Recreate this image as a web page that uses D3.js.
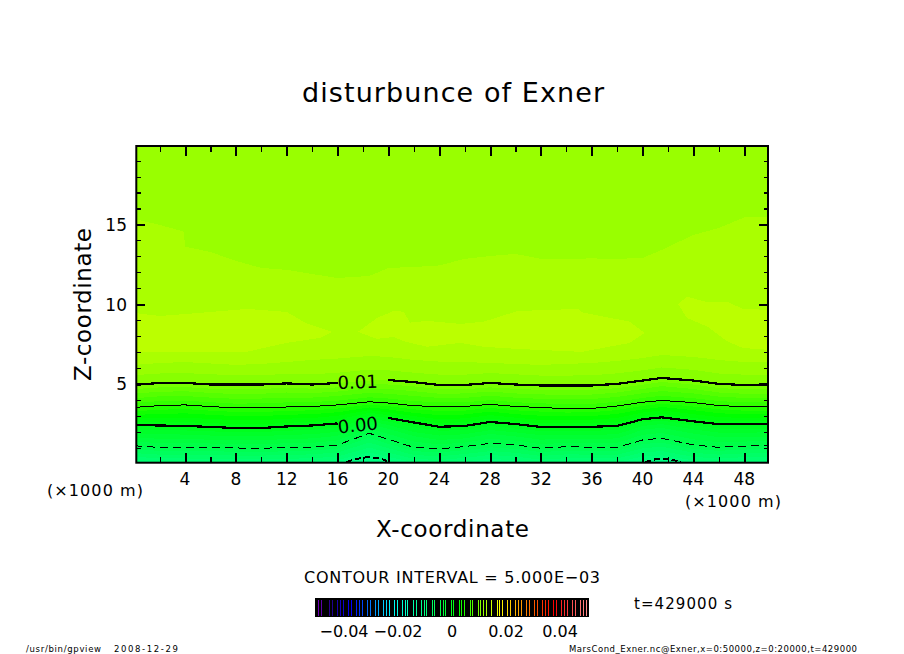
<!DOCTYPE html>
<html>
<head>
<meta charset="utf-8">
<script src="https://cdn.jsdelivr.net/npm/d3@7"></script>
<style>
  body { margin: 0; background: #fff; }
  text { font-family: "DejaVu Sans", sans-serif; fill: #000; }
  .band { shape-rendering: crispEdges; stroke: none; }
  .contour { fill: none; stroke: #000; shape-rendering: crispEdges; }
</style>
</head>
<body>
<div id="chart"></div>
<script>
var xStations = [0, 2, 4, 6, 8, 10, 12, 14, 16, 18.5, 20, 22, 24, 26, 28, 30, 32, 34, 36, 38, 40, 41.5, 44, 46, 48, 50];

// height (km) of each level of disturbance of Exner, one list per level
var lev012 = [6.19, 6.31, 6.37, 6.28, 6.19, 6.25, 6.37, 6.50, 6.59, 6.75, 6.69, 6.50, 6.40, 6.37, 6.31, 6.25, 6.19, 6.25, 6.31, 6.44, 6.62, 6.81, 6.69, 6.50, 6.37, 6.37];
var lev011 = [5.55, 5.65, 5.68, 5.6, 5.55, 5.55, 5.62, 5.6, 5.7, 5.9, 5.85, 5.7, 5.58, 5.58, 5.68, 5.6, 5.52, 5.52, 5.54, 5.66, 5.85, 6.03, 5.88, 5.65, 5.58, 5.58];
var lev010 = [4.93, 5.06, 5.06, 4.96, 4.96, 4.96, 5.03, 4.96, 5.06, 5.21, 5.24, 5.11, 4.93, 4.93, 5.06, 4.96, 4.90, 4.90, 4.90, 5.0, 5.21, 5.37, 5.21, 5.0, 4.93, 4.93];
var lev009 = [4.67, 4.78, 4.8, 4.7, 4.68, 4.68, 4.76, 4.7, 4.78, 4.98, 4.96, 4.84, 4.67, 4.66, 4.78, 4.69, 4.62, 4.6, 4.62, 4.73, 4.95, 5.12, 4.96, 4.74, 4.66, 4.66];
var lev008 = [4.40, 4.5, 4.54, 4.43, 4.36, 4.38, 4.46, 4.42, 4.52, 4.72, 4.68, 4.54, 4.38, 4.4, 4.52, 4.4, 4.34, 4.3, 4.33, 4.46, 4.68, 4.86, 4.68, 4.46, 4.38, 4.38];
var lev007 = [4.1, 4.22, 4.24, 4.14, 4.06, 4.08, 4.14, 4.14, 4.24, 4.44, 4.38, 4.24, 4.12, 4.12, 4.26, 4.13, 4.06, 4.02, 4.05, 4.18, 4.41, 4.55, 4.4, 4.2, 4.12, 4.12];
var lev006 = [3.8, 3.92, 3.95, 3.85, 3.76, 3.78, 3.84, 3.86, 3.95, 4.16, 4.08, 3.92, 3.84, 3.84, 3.98, 3.85, 3.78, 3.72, 3.74, 3.88, 4.12, 4.25, 4.1, 3.92, 3.84, 3.84];
var lev005 = [3.52, 3.64, 3.68, 3.58, 3.49, 3.49, 3.55, 3.58, 3.68, 3.88, 3.80, 3.63, 3.57, 3.58, 3.72, 3.58, 3.52, 3.44, 3.46, 3.61, 3.85, 3.96, 3.83, 3.64, 3.57, 3.57];
var lev004 = [3.28, 3.38, 3.42, 3.32, 3.24, 3.24, 3.3, 3.34, 3.45, 3.7, 3.6, 3.4, 3.3, 3.32, 3.5, 3.34, 3.26, 3.2, 3.22, 3.36, 3.62, 3.75, 3.58, 3.4, 3.32, 3.32];
var lev003 = [3.05, 3.12, 3.15, 3.06, 2.98, 2.98, 3.06, 3.1, 3.22, 3.52, 3.4, 3.18, 3.04, 3.08, 3.26, 3.1, 3.0, 2.96, 2.98, 3.12, 3.4, 3.55, 3.35, 3.16, 3.08, 3.08];
var lev002 = [2.84, 2.88, 2.88, 2.8, 2.72, 2.72, 2.82, 2.86, 3.0, 3.35, 3.22, 2.98, 2.78, 2.84, 3.04, 2.88, 2.74, 2.74, 2.76, 2.86, 3.2, 3.34, 3.1, 2.92, 2.86, 2.86];
var lev001 = [2.62, 2.63, 2.6, 2.54, 2.46, 2.46, 2.56, 2.62, 2.76, 3.18, 3.04, 2.78, 2.54, 2.6, 2.82, 2.68, 2.52, 2.52, 2.54, 2.6, 3.0, 3.12, 2.86, 2.68, 2.66, 2.66];
var lev000 = [2.42, 2.39, 2.36, 2.30, 2.23, 2.23, 2.33, 2.39, 2.52, 2.99, 2.86, 2.58, 2.31, 2.36, 2.61, 2.48, 2.30, 2.31, 2.31, 2.36, 2.78, 2.90, 2.65, 2.47, 2.47, 2.47];
var levM001 = [2.14, 2.12, 2.08, 2.02, 1.98, 1.98, 2.06, 2.12, 2.26, 2.84, 2.64, 2.28, 2.06, 2.1, 2.36, 2.2, 2.04, 2.06, 2.06, 2.1, 2.58, 2.7, 2.4, 2.2, 2.2, 2.2];
var levM002 = [1.88, 1.84, 1.82, 1.76, 1.72, 1.72, 1.8, 1.84, 2.0, 2.66, 2.42, 1.98, 1.76, 1.84, 2.1, 1.96, 1.78, 1.82, 1.8, 1.84, 2.36, 2.48, 2.14, 1.94, 1.94, 1.96];
var levM003 = [1.62, 1.56, 1.54, 1.5, 1.46, 1.46, 1.54, 1.58, 1.74, 2.46, 2.18, 1.72, 1.48, 1.58, 1.86, 1.7, 1.5, 1.56, 1.54, 1.58, 2.12, 2.24, 1.88, 1.66, 1.68, 1.7];
var levM004 = [1.38, 1.28, 1.28, 1.26, 1.22, 1.2, 1.28, 1.3, 1.46, 2.2, 1.86, 1.38, 1.2, 1.32, 1.56, 1.44, 1.22, 1.3, 1.28, 1.3, 1.8, 1.92, 1.52, 1.34, 1.38, 1.42];
var levM005 = [1.12, 1.01, 1.01, 1.01, 0.98, 0.96, 1.01, 1.04, 1.17, 1.90, 1.52, 1.02, 0.92, 1.07, 1.27, 1.17, 0.96, 1.06, 1.02, 1.02, 1.48, 1.59, 1.17, 1.02, 1.10, 1.15];
var levM006 = [0.9, 0.8, 0.78, 0.78, 0.74, 0.72, 0.78, 0.82, 0.94, 1.62, 1.24, 0.78, 0.7, 0.84, 1.02, 0.92, 0.72, 0.82, 0.8, 0.8, 1.22, 1.32, 0.92, 0.8, 0.88, 0.92];
var levM007 = [0.66, 0.56, 0.56, 0.54, 0.5, 0.5, 0.54, 0.58, 0.7, 1.32, 0.96, 0.54, 0.46, 0.6, 0.78, 0.68, 0.48, 0.58, 0.56, 0.56, 0.96, 1.06, 0.68, 0.56, 0.64, 0.68];
var levM008 = [0.42, 0.34, 0.32, 0.3, 0.28, 0.26, 0.3, 0.34, 0.44, 1.0, 0.68, 0.3, 0.22, 0.36, 0.54, 0.44, 0.24, 0.34, 0.32, 0.32, 0.7, 0.78, 0.42, 0.32, 0.4, 0.44];
var levM009 = [0.18, 0.1, 0.1, 0.08, 0.06, 0.06, 0.08, 0.12, 0.22, 0.7, 0.42, 0.1, 0.02, 0.14, 0.3, 0.2, 0.02, 0.1, 0.1, 0.1, 0.44, 0.52, 0.2, 0.1, 0.16, 0.2];

var bandLevels = [0.012, 0.011, 0.010, 0.009, 0.008, 0.007, 0.006, 0.005, 0.004, 0.003, 0.002, 0.001, 0,
  -0.001, -0.002, -0.003, -0.004, -0.005, -0.006, -0.007, -0.008, -0.009];
var bandHeights = [lev012, lev011, lev010, lev009, lev008, lev007, lev006, lev005, lev004, lev003, lev002, lev001, lev000,
  levM001, levM002, levM003, levM004, levM005, levM006, levM007, levM008, levM009];

// upper edge of the 0.012 level (between the two pale bands near the top)
var topX = [0, 2, 3.9, 4, 6, 8, 10, 12, 14, 16, 18.5, 20, 22, 24, 26, 28, 30, 32, 34, 36, 38, 40, 41.5, 44, 46, 48, 50];
var topZ = [15.35, 14.97, 14.55, 13.61, 13.27, 12.71, 12.27, 12.15, 11.89, 11.64, 11.77, 12.27, 12.33, 12.43, 12.84, 13.02, 13.15, 12.84, 12.84, 12.87, 12.84, 12.90, 13.40, 14.34, 14.78, 15.44, 15.49];

// 0.013 blobs
var blobLeftX = [0, 2, 4, 8.9, 12, 13.5, 14.6, 15.6];
var blobLeftHi = [9.45, 9.26, 9.38, 9.70, 9.51, 8.82, 8.51, 8.26];
var blobLeftLo = [7.0, 7.0, 7.0, 7.02, 7.57, 7.75, 7.88, 8.26];
var blobMidX = [17.6, 19.1, 20.4, 21.2, 21.7, 23.05, 25.65, 27.5, 30.15, 34.9, 35.3, 39.0, 40.15];
var blobMidHi = [8.26, 9.13, 9.57, 9.53, 8.84, 8.95, 8.76, 8.90, 9.57, 9.70, 9.47, 8.90, 8.19];
var blobMidLo = [8.26, 7.82, 7.94, 7.69, 7.57, 7.33, 7.57, 7.33, 7.19, 7.02, 7.02, 7.57, 8.19];
var blobRightX = [42.8, 43.5, 45.1, 46.7, 47.9, 50];
var blobRightHi = [10.0, 10.47, 10.12, 10.14, 9.70, 9.64];
var blobRightLo = [10.0, 9.13, 8.59, 7.65, 7.25, 7.13];

// -0.010 contour, only touches the ground under the two bumps
var lowAX = [16.7, 17.5, 18.5, 19.5, 20.1];
var lowAZ = [0.1, 0.3, 0.42, 0.28, 0.1];
var lowBX = [40.2, 41, 42, 43];
var lowBZ = [0.1, 0.27, 0.3, 0.1];

var xMajor = [4, 8, 12, 16, 20, 24, 28, 32, 36, 40, 44, 48];
var xMinor = [2, 6, 10, 14, 18, 22, 26, 30, 34, 38, 42, 46];
var zMajor = [5, 10, 15];
var zMinor = [1, 2, 3, 4, 6, 7, 8, 9, 11, 12, 13, 14, 16, 17, 18, 19];

var barTicks = [-0.04, -0.02, 0, 0.02, 0.04];
var barTickLabels = ["\u22120.04", "\u22120.02", "0", "0.02", "0.04"];
// stripes of the colour bar, in units of 0.001
var barStripes = [-49.5, -48.5, -45.5, -44.5, -42.5, -41.5, -40.5, -38.5, -37.5, -35.5, -34.5, -33.5, -31.5, -30.5, -28.5, -27.5,
  -25.5, -24.5, -23.5, -21.5, -20.5, -18.5, -17.5, -16.5, -14.5, -13.5, -11.5, -10.5, -9.5, -7.5, -6.5, -4.5, -3.5, -2.5, -0.5, 0.5,
  2.5, 3.5, 4.5, 6.5, 7.5, 9.5, 10.5, 11.5, 12.5, 14.5, 16.5, 17.5, 18.5, 20.5, 21.5, 23.5, 24.5, 25.5, 27.5, 28.5, 30.5, 31.5, 33.5,
  34.5, 35.5, 37.5, 38.5, 40.5, 41.5, 42.5, 44.5, 45.5, 47.5, 48.5, 49.5];

const svg = d3.select("#chart").append("svg").attr("width", 904).attr("height", 654);

const frame = { left: 136.3, right: 768, top: 146, bottom: 462.7 };
const x = d3.scaleLinear().domain([0.165, 49.87]).range([frame.left, frame.right]);
const y = d3.scaleLinear().domain([0.056, 19.92]).range([frame.bottom, frame.top]);

const color = d3.scaleLinear()
  .domain([-0.05, -0.045, -0.0375, -0.0225, 0.0025, 0.0175, 0.0375, 0.05])
  .range(["#7700bb", "#220088", "#0000ff", "#00ffff", "#00ff00", "#ffff00", "#ff0000", "#ff9090"]);

svg.append("clipPath").attr("id", "plot").append("rect")
  .attr("x", frame.left).attr("y", frame.top)
  .attr("width", frame.right - frame.left).attr("height", frame.bottom - frame.top);

const plot = svg.append("g").attr("clip-path", "url(#plot)");

plot.append("rect").attr("class", "band")
  .attr("x", frame.left).attr("y", frame.top)
  .attr("width", frame.right - frame.left).attr("height", frame.bottom - frame.top)
  .attr("fill", color(0.0115));

function drawBand(xs, hi, lo, value) {
  const area = d3.area()
    .x((d, i) => x(xs[i]))
    .y0((d, i) => y(lo ? lo[i] : -1))
    .y1(d => y(d));
  plot.append("path").attr("class", "band").attr("d", area(hi)).attr("fill", color(value));
}

drawBand(topX, topZ, null, 0.0125);
drawBand(blobLeftX, blobLeftHi, blobLeftLo, 0.0135);
drawBand(blobMidX, blobMidHi, blobMidLo, 0.0135);
drawBand(blobRightX, blobRightHi, blobRightLo, 0.0135);

bandLevels.forEach((lev, i) => drawBand(xStations, bandHeights[i], null, lev - 0.0005));
drawBand(lowAX, lowAZ, null, -0.0105);
drawBand(lowBX, lowBZ, null, -0.0105);

function drawContour(xs, zs, width, dash, gap) {
  const line = d3.line()
    .defined((d, i) => !(gap && xs[i] === 18.5))
    .x((d, i) => x(xs[i]))
    .y(d => y(d));
  plot.append("path").attr("class", "contour")
    .attr("d", line(zs))
    .attr("stroke-width", width)
    .attr("stroke-dasharray", dash);
}

drawContour(xStations, lev010, 2.2, null, true);
drawContour(xStations, lev005, 1, null, false);
drawContour(xStations, lev000, 2.2, null, true);
drawContour(xStations, levM005, 1, "8 5", false);
drawContour(lowAX, lowAZ, 2, "6 3", false);
drawContour(lowBX, lowBZ, 2, "6 3", false);

// contour labels
svg.append("text").attr("transform", `translate(${x(17.6)},${y(4.72)}) rotate(-2)`)
  .attr("text-anchor", "middle").attr("font-size", 18).text("0.01");
svg.append("text").attr("transform", `translate(${x(17.65)},${y(2.02)}) rotate(-6)`)
  .attr("text-anchor", "middle").attr("font-size", 18).text("0.00");

// axes: ticks point into the plot, only the bottom and left ones carry labels
function ticks(axis, values, size) {
  return axis.tickValues(values).tickSize(size).tickSizeOuter(0).tickFormat("");
}
function addAxis(axis, tx, ty) {
  const g = svg.append("g").attr("transform", `translate(${tx},${ty})`).call(axis);
  g.select(".domain").remove();
  g.selectAll("line").attr("stroke", "#000").attr("stroke-width", axis.tickSize() > 6 ? 2 : 1.2)
    .attr("shape-rendering", "crispEdges");
  return g;
}
addAxis(ticks(d3.axisTop(x), xMajor, 10), 0, frame.bottom);
addAxis(ticks(d3.axisTop(x), xMinor, 5.5), 0, frame.bottom);
addAxis(ticks(d3.axisBottom(x), xMajor, 10), 0, frame.top);
addAxis(ticks(d3.axisBottom(x), xMinor, 5.5), 0, frame.top);
addAxis(ticks(d3.axisRight(y), zMajor, 9), frame.left, 0);
addAxis(ticks(d3.axisRight(y), zMinor, 4.5), frame.left, 0);
addAxis(ticks(d3.axisLeft(y), zMajor, 9), frame.right, 0);
addAxis(ticks(d3.axisLeft(y), zMinor, 4.5), frame.right, 0);

svg.append("rect").attr("x", frame.left).attr("y", frame.top)
  .attr("width", frame.right - frame.left).attr("height", frame.bottom - frame.top)
  .attr("fill", "none").attr("stroke", "#000").attr("stroke-width", 2);

svg.append("g").selectAll("text").data(xMajor).join("text")
  .attr("x", d => x(d)).attr("y", 485).attr("text-anchor", "middle")
  .attr("font-size", 17).text(d => d);
svg.append("g").selectAll("text").data(zMajor).join("text")
  .attr("x", 127).attr("y", d => y(d) + 6.5).attr("text-anchor", "end")
  .attr("font-size", 17).text(d => d);

function label(txt, px, py, size, len, rot) {
  const t = svg.append("text")
    .attr("font-size", size)
    .attr("textLength", len)
    .attr("lengthAdjust", "spacing")
    .text(txt);
  if (rot) t.attr("transform", `translate(${px},${py}) rotate(${rot})`);
  else t.attr("x", px).attr("y", py);
  return t;
}

label("disturbunce of Exner", 302, 102, 27, 302);
label("Z-coordinate", 91, 381, 23, 153, -90);
label("X-coordinate", 376, 537, 23, 153);
label("(\u00d71000 m)", 47, 496, 16, 96);
label("(\u00d71000 m)", 685, 507, 16, 96);
label("CONTOUR INTERVAL = 5.000E\u221203", 304, 583, 16, 296);
label("t=429000 s", 634, 609, 15, 98);
label("/usr/bin/gpview", 26, 652, 8.5, 75);
label("2008-12-29", 114, 652, 8.5, 64);
label("MarsCond_Exner.nc@Exner,x=0:50000,z=0:20000,t=429000", 569, 652, 8.5, 288);

// colour bar
const bar = d3.scaleLinear().domain([-0.05, 0.05]).range([317, 587]);
svg.append("rect").attr("x", 315).attr("y", 598).attr("width", 274).attr("height", 19).attr("fill", "#000");
svg.append("g").selectAll("rect").data(barStripes).join("rect")
  .attr("class", "band")
  .attr("x", d => Math.round(bar(d / 1000)) - 0.5).attr("y", 600).attr("width", 1.5).attr("height", 16)
  .attr("fill", d => color(d / 1000));
svg.append("g").selectAll("text").data(barTicks).join("text")
  .attr("x", d => bar(d)).attr("y", 637).attr("text-anchor", "middle")
  .attr("font-size", 16).text((d, i) => barTickLabels[i]);
</script>
</body>
</html>
